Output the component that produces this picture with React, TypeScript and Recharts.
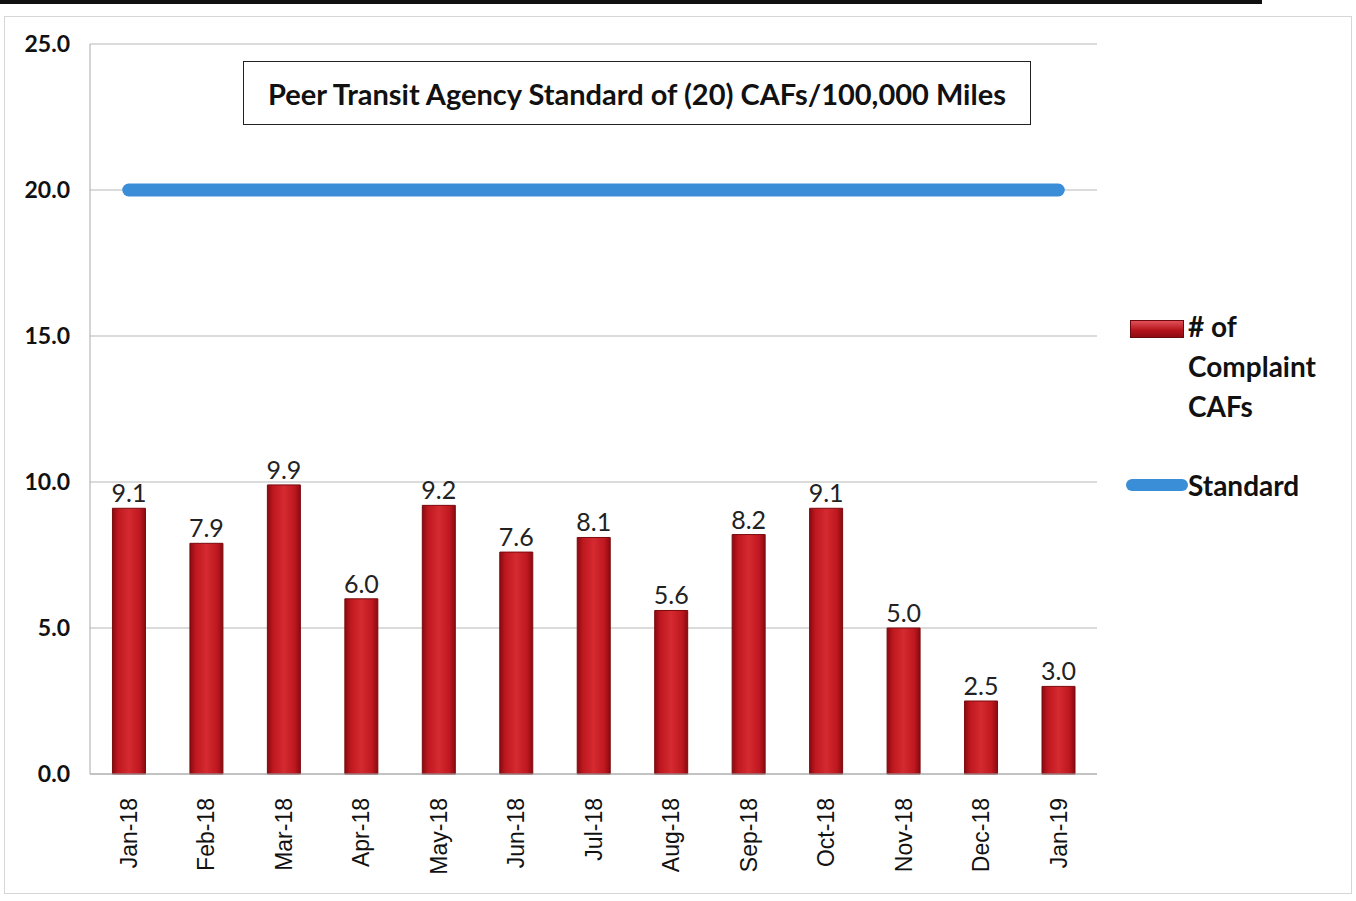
import {
  ComposedChart,
  Bar,
  Line,
  XAxis,
  YAxis,
  CartesianGrid,
  LabelList,
} from "recharts";

const months = [
  "Jan-18", "Feb-18", "Mar-18", "Apr-18", "May-18", "Jun-18", "Jul-18",
  "Aug-18", "Sep-18", "Oct-18", "Nov-18", "Dec-18", "Jan-19",
];
const complaintCafs = [9.1, 7.9, 9.9, 6.0, 9.2, 7.6, 8.1, 5.6, 8.2, 9.1, 5.0, 2.5, 3.0];
const standard = [20, 20, 20, 20, 20, 20, 20, 20, 20, 20, 20, 20, 20];
const yTicks = [0, 5, 10, 15, 20, 25];

const FONT = "Lato, 'Open Sans', sans-serif";

const data = months.map((m, i) => ({
  month: m,
  cafs: complaintCafs[i],
  standard: standard[i],
}));

function MonthTick(props: any) {
  const { x, y, payload } = props;
  return (
    <text
      x={x}
      y={y + 16}
      transform={`rotate(-90, ${x}, ${y + 16})`}
      textAnchor="end"
      dy="0.36em"
      fill="#111"
      fontSize={23}
      fontFamily="'Liberation Sans', Arial, sans-serif"
    >
      {payload.value}
    </text>
  );
}

function LegendBox() {
  return (
    <div
      style={{
        position: "absolute",
        left: 1130,
        top: 312,
        fontFamily: FONT,
        fontWeight: 700,
        fontSize: 28,
        color: "#111",
      }}
    >
      <div style={{ display: "flex", alignItems: "flex-start" }}>
        <div
          style={{
            width: 52,
            height: 16,
            marginTop: 8,
            background: "linear-gradient(#e05058, #b3121a 60%, #8e0c12)",
            border: "1px solid #6a0a0e",
          }}
        />
        <div style={{ lineHeight: "40px", marginTop: -6, marginLeft: 4 }}>
          # of
          <br />
          Complaint
          <br />
          CAFs
        </div>
      </div>
      <div style={{ display: "flex", alignItems: "center", marginTop: 42, marginLeft: -4 }}>
        <div style={{ width: 62, height: 12, borderRadius: 6, background: "#3a8ed8" }} />
        <div>Standard</div>
      </div>
    </div>
  );
}

export default function App() {
  return (
    <div
      style={{
        position: "absolute",
        left: 0,
        top: 0,
        width: 1356,
        height: 901,
        background: "#fff",
        overflow: "hidden",
      }}
    >
      <div
        style={{ position: "absolute", left: 0, top: 0, width: 1262, height: 4, background: "#111" }}
      />
      <div
        style={{
          position: "absolute",
          left: 4,
          top: 16,
          width: 1346,
          height: 876,
          border: "1px solid #d6d6d6",
        }}
      />
      <ComposedChart
        width={1356}
        height={901}
        data={data}
        margin={{ top: 44, right: 259, bottom: 0, left: 0 }}
        barCategoryGap="29%"
      >
        <defs>
          <linearGradient id="barGrad" x1="0" y1="0" x2="1" y2="0">
            <stop offset="0%" stopColor="#8a0a10" />
            <stop offset="18%" stopColor="#c01820" />
            <stop offset="50%" stopColor="#d42a30" />
            <stop offset="82%" stopColor="#c01820" />
            <stop offset="100%" stopColor="#8a0a10" />
          </linearGradient>
        </defs>
        <CartesianGrid vertical={false} stroke="#b8b8b8" strokeWidth={1.2} />
        <XAxis
          dataKey="month"
          tick={<MonthTick />}
          tickLine={false}
          axisLine={{ stroke: "#aaa" }}
          interval={0}
          height={127}
        />
        <YAxis
          domain={[0, 25]}
          ticks={yTicks}
          width={90}
          tickSize={0}
          tickMargin={20}
          tickFormatter={(v: number) => v.toFixed(1)}
          tick={{ fill: "#111", fontSize: 23, fontWeight: 700, fontFamily: FONT }}
          axisLine={{ stroke: "#aaa" }}
          tickLine={false}
        />
        <Bar
          dataKey="cafs"
          name="# of Complaint CAFs"
          fill="url(#barGrad)"
          stroke="#7a0a0e"
          strokeWidth={1}
          isAnimationActive={false}
        >
          <LabelList
            dataKey="cafs"
            position="top"
            offset={6}
            formatter={(v: number) => v.toFixed(1)}
            style={{ fill: "#222", fontSize: 25, fontFamily: FONT }}
          />
        </Bar>
        <Line
          dataKey="standard"
          name="Standard"
          stroke="#3a8ed8"
          strokeWidth={13}
          strokeLinecap="round"
          dot={false}
          isAnimationActive={false}
        />
      </ComposedChart>
      <LegendBox />
      <div
        style={{
          position: "absolute",
          left: 243,
          top: 61,
          width: 786,
          height: 62,
          border: "1.5px solid #222",
          background: "#fff",
          display: "flex",
          alignItems: "center",
          justifyContent: "center",
          fontFamily: FONT,
          fontWeight: 700,
          fontSize: 29,
          color: "#111",
        }}
      >
        Peer Transit Agency Standard of (20) CAFs/100,000 Miles
      </div>
    </div>
  );
}
